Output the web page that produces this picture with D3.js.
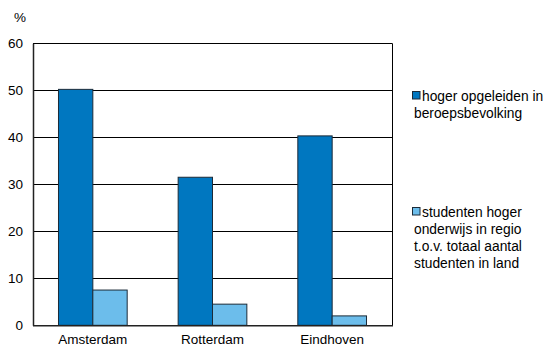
<!DOCTYPE html>
<html><head><meta charset="utf-8">
<script src="https://cdn.jsdelivr.net/npm/d3@7"></script>
<style>body{margin:0;background:#fff;} text{font-family:"Liberation Sans",Arial,sans-serif;fill:#000;}</style>
</head><body><svg id="c" width="549" height="346"></svg>
<script>
const categories = ["Amsterdam", "Rotterdam", "Eindhoven"];
const seriesNames = ["hoger opgeleiden in beroepsbevolking", "studenten hoger onderwijs in regio t.o.v. totaal aantal studenten in land"];
const hogerOpgeleiden = [50.2, 31.5, 40.3];
const studenten = [7.5, 4.5, 2.0];
const yTicks = [0, 10, 20, 30, 40, 50, 60];
const colors = ["#0077c0", "#6cbdeb"];
const legendLines = [["hoger opgeleiden in", "beroepsbevolking"], ["studenten hoger", "onderwijs in regio", "t.o.v. totaal aantal", "studenten in land"]];

const svg = d3.select("#c");
const L = 33, R = 392, T = 43.3, B = 325.3;
const x = d3.scaleBand().domain(categories).range([L, R]).paddingInner(0.426).paddingOuter(0.213);
const xs = d3.scaleBand().domain([0,1]).range([0, x.bandwidth()]);
const y = d3.scaleLinear().domain([0, 60]).range([B, T]);

svg.append("g").selectAll("line").data(yTicks.filter(d => d > 0)).join("line")
  .attr("x1", L).attr("x2", R).attr("y1", d => Math.round(y(d)) + 0.5).attr("y2", d => Math.round(y(d)) + 0.5)
  .attr("stroke", "#000").attr("stroke-width", 1);
svg.append("line").attr("x1", R + 0.5).attr("x2", R + 0.5).attr("y1", y(60)).attr("y2", y(0)).attr("stroke", "#000");

const data = categories.map((c, i) => ({c, v: [hogerOpgeleiden[i], studenten[i]]}));
const g = svg.append("g").selectAll("g").data(data).join("g").attr("transform", d => `translate(${x(d.c)},0)`);
g.selectAll("rect").data(d => d.v.map((v, k) => ({v, k}))).join("rect")
  .attr("x", d => xs(d.k)).attr("width", xs.bandwidth())
  .attr("y", d => y(d.v)).attr("height", d => y(0) - y(d.v))
  .attr("fill", d => colors[d.k]).attr("stroke", "#1c2b38").attr("stroke-width", 1);

const ya = svg.append("g").attr("transform", `translate(${L},0)`).call(d3.axisLeft(y).tickValues(yTicks).tickSize(0).tickPadding(10));
ya.select(".domain").attr("stroke", "#222").attr("stroke-width", 1.5);
ya.selectAll("text").style("font-size", "13.5px").style("font-family", "Liberation Sans, Arial, sans-serif");
const xa = svg.append("g").attr("transform", `translate(0,${B})`).call(d3.axisBottom(x).tickSize(0).tickPadding(9));
xa.select(".domain").attr("d", `M${L},0.5H${R + 1}`).attr("stroke", "#222").attr("stroke-width", 1.5);
xa.selectAll("text").style("font-size", "13.5px").style("font-family", "Liberation Sans, Arial, sans-serif");

svg.append("text").attr("x", 20).attr("y", 22).attr("text-anchor", "middle").style("font-size", "13.5px").text("%");

const legY = [101, 217];
legendLines.forEach((lines, i) => {
  svg.append("rect").attr("x", 412.5).attr("y", legY[i] - 9.5).attr("width", 7.5).attr("height", 7.5)
    .attr("fill", colors[i]).attr("stroke", "#1c2b38").attr("stroke-width", 1);
  const t = svg.append("text").attr("x", 422).attr("y", legY[i]).style("font-size", "13.8px");
  lines.forEach((ln, j) => t.append("tspan").attr("x", j === 0 ? 422 : 414).attr("dy", j === 0 ? 0 : 17).text(ln));
});
</script></body></html>
